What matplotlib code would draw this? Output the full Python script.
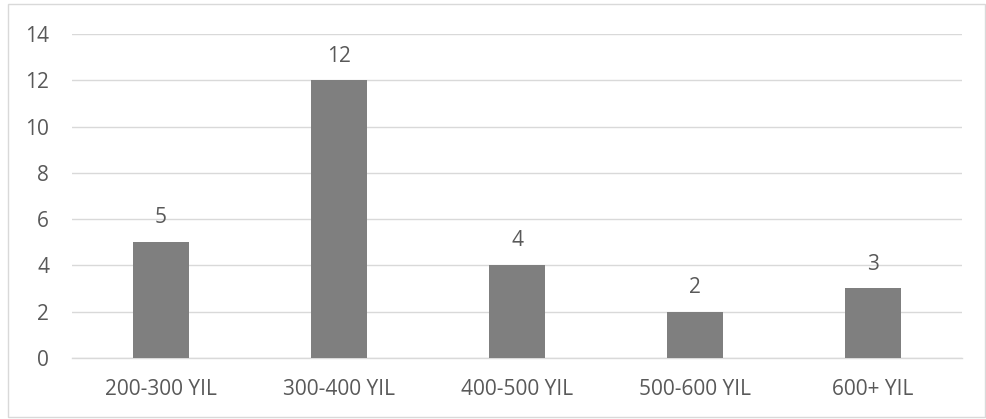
import matplotlib.pyplot as plt
from matplotlib.patches import Rectangle

categories = ["200-300 YIL", "300-400 YIL", "400-500 YIL", "500-600 YIL", "600+ YIL"]
values = [5, 12, 4, 2, 3]
yticks = [0, 2, 4, 6, 8, 10, 12, 14]

plt.rcParams['font.family'] = ['Open Sans', 'DejaVu Sans']
text_color = '#595959'
grid_color = '#d9d9d9'

fig = plt.figure(figsize=(9.87, 4.19), dpi=100)
ax = fig.add_axes([72 / 987, 1 - 357.7 / 419, 890 / 987, 323.4 / 419])

x = list(range(len(categories)))
bars = ax.bar(x, values, width=0.315, color='#7f7f7f', zorder=3)
for b, v in zip(bars, values):
    ax.annotate(str(v), (b.get_x() + b.get_width() / 2, v), xytext=(0, 10),
                textcoords='offset points', ha='center', va='bottom',
                fontsize=15, color=text_color)

ax.set_xlim(-0.5, len(categories) - 0.5)
ax.set_ylim(0, 14)
ax.set_yticks(yticks)
ax.set_xticks(x)
ax.set_xticklabels(categories)
ax.grid(axis='y', color=grid_color, linewidth=1, zorder=0)
for s in ['top', 'right', 'left']:
    ax.spines[s].set_visible(False)
ax.spines['bottom'].set_color(grid_color)
ax.spines['bottom'].set_linewidth(1)
ax.tick_params(axis='both', length=0, labelsize=15, colors=text_color)
ax.tick_params(axis='x', pad=15)
ax.tick_params(axis='y', pad=16.5)

# chart border
fig.patches.append(Rectangle((8 / 987, 2 / 419), 977 / 987, 413 / 419, transform=fig.transFigure,
                             fill=False, edgecolor=grid_color, linewidth=1))

fig.savefig('out.png', dpi=100)
